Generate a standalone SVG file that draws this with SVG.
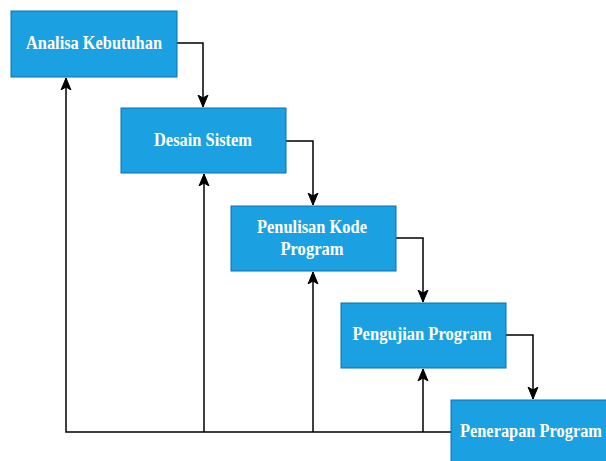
<svg xmlns="http://www.w3.org/2000/svg" width="606" height="461" viewBox="0 0 606 461">
<style>
.box{fill:#1ba1e2;stroke:#0a6fb0;stroke-width:1}
.lbl{font-family:"Liberation Serif","DejaVu Serif",serif;font-weight:bold;font-size:18.5px;fill:#ffffff;text-anchor:middle}
.ln{fill:none;stroke:#000000;stroke-width:1.5}
</style>
<defs>
<marker id="arr" markerUnits="userSpaceOnUse" markerWidth="13" markerHeight="13" viewBox="0 0 13 13" refX="12" refY="6.5" orient="auto">
<path d="M0,1.5 L12,6.5 L0,11.5 L3,6.5 z" fill="#000000" stroke="#000000" stroke-width="1"/>
</marker>
</defs>
<rect width="606" height="461" fill="#ffffff"/>
<g id="connectors">
<path class="ln" d="M177,43 H203 V107" marker-end="url(#arr)"/>
<path class="ln" d="M286,141 H313 V205" marker-end="url(#arr)"/>
<path class="ln" d="M396,238 H423 V302" marker-end="url(#arr)"/>
<path class="ln" d="M506,335 H533 V399" marker-end="url(#arr)"/>
<path class="ln" d="M451,432 H66 V78" marker-end="url(#arr)"/>
<path class="ln" d="M204,432 V174" marker-end="url(#arr)"/>
<path class="ln" d="M313,432 V272" marker-end="url(#arr)"/>
<path class="ln" d="M423,432 V369" marker-end="url(#arr)"/>
</g>
<g id="analisa">
<rect class="box" x="11" y="11" width="166" height="66"/>
<text class="lbl" x="94" y="49" textLength="136" lengthAdjust="spacingAndGlyphs">Analisa Kebutuhan</text>
</g>
<g id="desain">
<rect class="box" x="121" y="108" width="165" height="65"/>
<text class="lbl" x="203" y="146" textLength="98" lengthAdjust="spacingAndGlyphs">Desain Sistem</text>
</g>
<g id="penulisan">
<rect class="box" x="231" y="206" width="165" height="65"/>
<text class="lbl" x="312" y="233" textLength="110" lengthAdjust="spacingAndGlyphs">Penulisan Kode</text>
<text class="lbl" x="312" y="255" textLength="63" lengthAdjust="spacingAndGlyphs">Program</text>
</g>
<g id="pengujian">
<rect class="box" x="341" y="303" width="165" height="65"/>
<text class="lbl" x="422" y="340" textLength="139" lengthAdjust="spacingAndGlyphs">Pengujian Program</text>
</g>
<g id="penerapan">
<rect class="box" x="451" y="400" width="165" height="66"/>
<text class="lbl" x="531" y="437" textLength="142" lengthAdjust="spacingAndGlyphs">Penerapan Program</text>
</g>
</svg>
